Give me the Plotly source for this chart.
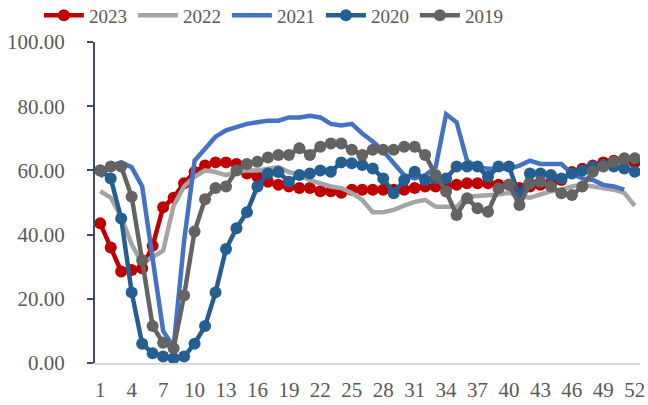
import plotly.graph_objects as go

weeks = list(range(1, 53))
tick_weeks = list(range(1, 53, 3))

y2023 = [43.5, 36, 28.5, 29, 29.5, 36.5, 48.5, 51.5, 56, 59.5, 61.5, 62.5, 62.5, 62, 59, 58,
         56.5, 55.5, 55, 54.5, 54.5, 53.5, 53.5, 53, 54, 54, 54, 54, 54, 54, 54.5, 55,
         55, 55, 55.5, 56, 56, 56, 55.5, 55.5, 54.5, 55, 55.5, 56, 57, 59.5, 60.5, 61.5,
         62.5, 63, 63.5, 62.5]
y2022 = [53.5, 51.5, 45.5, 37, 31, 33, 35, 49, 55, 58, 60, 59.5, 58.5, 59.5, 60, 60,
         60.5, 61, 59.5, 58.6, 57, 56, 55, 54.5, 53, 50.8, 47, 47, 47.7, 49, 50.2, 50.8,
         48.7, 48.7, 48.7, 51.8, 52, 52.3, 52.5, 53, 52, 51.5, 52.5, 53.5, 54, 55, 55.5, 55,
         54.5, 54, 53, 49]
y2021 = [58, 61.5, 62.5, 61, 55, 33, 10, 5, 38, 63, 67, 70.5, 72.5, 73.5, 74.5, 75,
         75.5, 75.5, 76.5, 76.5, 77, 76.5, 74.5, 74, 74.5, 71.5, 69, 66, 62, 58.5, 57.5, 58.5,
         61, 77.5, 75, 63, 61, 60.5, 60.5, 60.5, 61.5, 63, 62, 62, 62, 59, 57.5, 57,
         55.5, 55, 54, None]
y2020 = [60, 57.5, 45, 22, 6, 3, 2, 1.5, 2, 6, 11.5, 22, 35.5, 42, 47, 55,
         59, 59.5, 56.5, 58.6, 59, 60, 59.6, 62.5, 62.2, 61.7, 60.6, 57.5, 52.9, 57, 59.6, 57,
         57.5, 57.5, 61.2, 61.2, 61.2, 58, 61.2, 61.2, 52, 59, 59, 58.6, 57.5, 59, 60, 61.2,
         61.7, 61.2, 60.6, 59.6]
y2019 = [60, 61.2, 61.2, 51.8, 32, 11.5, 6.3, 4.6, 21, 41, 51, 54.5, 55, 60, 62, 62.7,
         64, 64.8, 64.8, 66.9, 64.8, 67.4, 68.4, 68.4, 66.4, 64.8, 66.4, 66.4, 66.4, 67.4, 67.4, 64.8,
         58.6, 53.4, 46.1, 51.3, 48.2, 47.1, 54.4, 55.5, 49.2, 56, 56.5, 55, 52.9, 52.3, 55, 59.6,
         61.2, 62.7, 63.8, 63.8]

series = [
    ("2023", y2023, "#C00000", True),
    ("2022", y2022, "#A5A5A5", False),
    ("2021", y2021, "#4472C4", False),
    ("2020", y2020, "#255E91", True),
    ("2019", y2019, "#636363", True),
]

fig = go.Figure()
for name, ys, color, has_marker in series:
    fig.add_trace(go.Scatter(
        x=weeks, y=ys, name=name,
        mode="lines+markers" if has_marker else "lines",
        line=dict(color=color, width=4.5),
        marker=dict(color=color, size=12) if has_marker else None,
        connectgaps=False,
    ))

font_family = "Liberation Serif, Times New Roman, serif"
fig.update_layout(
    width=648, height=405,
    margin=dict(l=95, r=8, t=42, b=42, autoexpand=False),
    paper_bgcolor="white", plot_bgcolor="white",
    font=dict(family=font_family, size=20, color="#595959"),
    showlegend=True,
    legend=dict(orientation="h", xref="container", yref="container",
                x=0.06, y=0.962, xanchor="left", yanchor="middle",
                font=dict(family=font_family, size=19, color="#595959"),
                itemwidth=40,
                entrywidth=39, entrywidthmode="pixels",
                bgcolor="rgba(0,0,0,0)", borderwidth=0),
    xaxis=dict(range=[0.5, 52.5], tickmode="array", tickvals=tick_weeks,
               ticktext=[str(w) for w in tick_weeks], showgrid=False, zeroline=False,
               showline=True, linecolor="#D9D9D9", linewidth=2, ticks="",
               ticklabelstandoff=7,
               tickfont=dict(family=font_family, size=21, color="#595959")),
    yaxis=dict(range=[0, 100], tickmode="array", tickvals=[0, 20, 40, 60, 80, 100],
               tickformat=".2f", showgrid=False, zeroline=False,
               showline=True, linecolor="#3E4C63", linewidth=2,
               ticks="outside", ticklen=6, tickcolor="#3E4C63", tickwidth=2,
               ticklabelstandoff=18,
               tickfont=dict(family=font_family, size=21, color="#595959")),
)

fig.write_html("out.html", config={"displayModeBar": False},
               post_script="document.body.style.margin='0';")
